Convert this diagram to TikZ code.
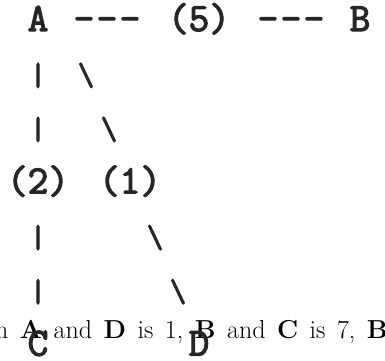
\documentclass[tikz,border=0pt]{standalone}
\usepackage{fontspec}
\newfontfamily\asciifont{Latin Modern Mono}[FakeBold=3]
\usetikzlibrary{positioning}

\begin{document}
\begin{tikzpicture}[
    x=1pt, y=-1pt,
    glyph/.style={font=\asciifont\fontsize{40}{44}\selectfont, text=black!85, inner sep=0pt, anchor=base},
    bar/.style={glyph, font=\asciifont\fontsize{32}{34}\selectfont},
    prose/.style={font=\fontsize{26}{30}\selectfont, inner sep=0pt, anchor=base west}
]
\clip (0,0) rectangle (385,360);
% sentence running under the drawing
\node[prose] (line) at (-5,338) {\spaceskip=11.5pt n \textbf{A} and \textbf{D} is 1, \textbf{B} and \textbf{C} is 7, \textbf{B}};
% vertices and weights, one column = 23pt
\node[glyph] (A) at (38,31) {A};
\foreach \c in {2,3,4,10,11,12}
    \node[glyph] (dash\c) at (38+23*\c,31) {-};
\node[glyph] (wAB) at (199,31) {(5)};
\node[glyph] (B) at (360,31) {B};
\node[bar] (eAC1) at (38,85.1) {|};
\node[bar] (eAD1) at (86,85.1) {\textbackslash};
\node[bar] (eAC2) at (38,139.2) {|};
\node[bar] (eAD2) at (109,139.2) {\textbackslash};
\node[glyph] (wAC) at (38,193.3) {(2)};
\node[glyph] (wAD) at (130,193.3) {(1)};
\node[bar] (eAC3) at (38,247.4) {|};
\node[bar] (eAD3) at (155,247.4) {\textbackslash};
\node[bar] (eAC4) at (38,301.5) {|};
\node[bar] (eAD4) at (178,301.5) {\textbackslash};
\node[glyph] (C) at (38,355.6) {C};
\node[glyph] (D) at (199,355.6) {D};
\end{tikzpicture}
\end{document}
